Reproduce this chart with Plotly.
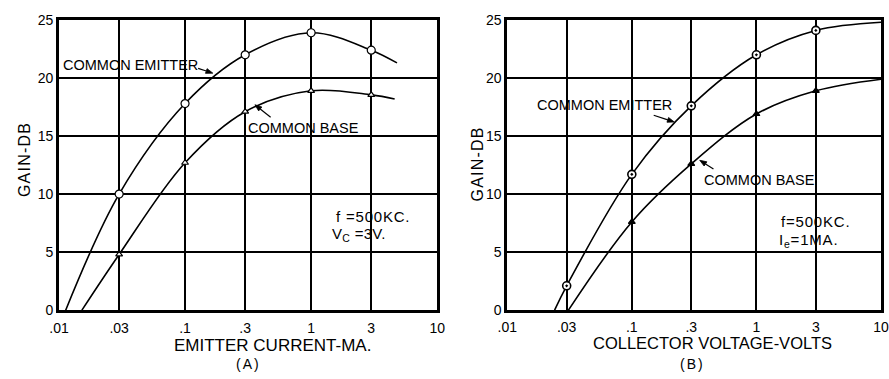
import math
import plotly.graph_objects as go

FIG_W, FIG_H = 889, 379

# Axis ticks shared by both panels
x_tickvals = [0.01, 0.03, 0.1, 0.3, 1, 3, 10]
x_ticktext = [".01", ".03", ".1", ".3", "1", "3", "10"]
y_tickvals = [0, 5, 10, 15, 20, 25]

# (A) gain vs emitter current, f = 500 kc, Vc = 3 V
a_ce_current = [0.03, 0.1, 0.3, 1, 3]
a_ce_gain = [10.0, 17.8, 22.0, 23.9, 22.4]
a_ce_ends_current = [0.0113, 4.8]
a_ce_ends_gain = [0.0, 21.3]

a_cb_current = [0.03, 0.1, 0.3, 1, 3]
a_cb_gain = [4.8, 12.7, 17.1, 18.9, 18.55]
a_cb_ends_current = [0.0152, 4.6]
a_cb_ends_gain = [0.0, 18.2]

# (B) gain vs collector voltage, f = 500 kc, Ie = 1 mA
b_ce_voltage = [0.03, 0.1, 0.3, 1, 3]
b_ce_gain = [2.1, 11.7, 17.6, 22.0, 24.1]
b_ce_ends_voltage = [0.024, 10]
b_ce_ends_gain = [0.0, 24.8]

b_cb_voltage = [0.1, 0.3, 1, 3]
b_cb_gain = [7.6, 12.6, 16.9, 18.9]
b_cb_ends_voltage = [0.031, 10]
b_cb_ends_gain = [0.0, 19.9]

FONT = "Liberation Sans"


def px(x):
    return x / FIG_W


def py(y):
    return 1 - y / FIG_H


def spaced(text, sp):
    if sp == 0:
        return text
    return f'<span style="letter-spacing:{sp}px">{text}</span>'


def curve(xs, ys, ends_x, ends_y, xa, ya):
    return go.Scatter(
        x=[ends_x[0]] + xs + [ends_x[1]],
        y=[ends_y[0]] + ys + [ends_y[1]],
        mode="lines",
        line=dict(color="black", width=1.6, shape="spline", smoothing=1.0),
        xaxis=xa, yaxis=ya, hoverinfo="skip",
    )


def points(xs, ys, xa, ya, symbol, size, fill, lw=1.2):
    return go.Scatter(
        x=xs, y=ys, mode="markers",
        marker=dict(symbol=symbol, size=size, color=fill,
                    line=dict(color="black", width=lw)),
        xaxis=xa, yaxis=ya,
    )


fig = go.Figure()

# Panel A
fig.add_trace(curve(a_ce_current, a_ce_gain, a_ce_ends_current, a_ce_ends_gain, "x", "y"))
fig.add_trace(curve(a_cb_current, a_cb_gain, a_cb_ends_current, a_cb_ends_gain, "x", "y"))
fig.add_trace(points(a_ce_current, a_ce_gain, "x", "y", "circle", 8, "white"))
fig.add_trace(points(a_cb_current, a_cb_gain, "x", "y", "triangle-up", 6, "white"))

# Panel B
fig.add_trace(curve(b_ce_voltage, b_ce_gain, b_ce_ends_voltage, b_ce_ends_gain, "x2", "y2"))
fig.add_trace(curve(b_cb_voltage, b_cb_gain, b_cb_ends_voltage, b_cb_ends_gain, "x2", "y2"))
fig.add_trace(points(b_ce_voltage, b_ce_gain, "x2", "y2", "circle-dot", 8, "white", 1.6))
fig.add_trace(points(b_cb_voltage, b_cb_gain, "x2", "y2", "triangle-up", 6, "black"))

y_dom = [py(315.5), py(12.5)]

common_x = dict(
    type="log", tickvals=x_tickvals, ticktext=x_ticktext,
    showgrid=True, gridcolor="black", gridwidth=1.8,
    showline=True, mirror=True, linecolor="black", linewidth=2.6,
    zeroline=False, ticks="", ticklabelstandoff=3,
    ticklabeloverflow="allow",
    tickfont=dict(family=FONT, size=14, color="black"),
    fixedrange=True,
)
common_y = dict(
    range=[0, 25], tickvals=y_tickvals, domain=y_dom,
    showgrid=True, gridcolor="black", gridwidth=1.8,
    showline=True, mirror=True, linecolor="black", linewidth=2.6,
    zeroline=False, ticks="",
    tickfont=dict(family=FONT, size=14, color="black"),
    fixedrange=True,
)

fig.update_layout(
    width=FIG_W, height=FIG_H,
    margin=dict(l=0, r=0, t=0, b=0),
    paper_bgcolor="white", plot_bgcolor="white",
    showlegend=False,
    xaxis=dict(common_x, range=[-2, 1], domain=[px(50), px(436)], anchor="y"),
    yaxis=dict(common_y, anchor="x"),
    xaxis2=dict(common_x, range=[-2, 1], domain=[px(507.5), 1.0], anchor="y2",
                ticklabelstandoff=2),
    yaxis2=dict(common_y, anchor="x2"),
)

annotations = []
shapes = []


def label(text, x, y, size=14.5, sp=0.0, xanchor="center", angle=0):
    annotations.append(dict(
        text=spaced(text, sp), x=px(x), y=py(y), xref="paper", yref="paper",
        xanchor=xanchor, yanchor="middle", showarrow=False, textangle=angle,
        borderpad=0, font=dict(family=FONT, size=size, color="black"),
    ))


def pointer(tip_x, tip_y, tail_x, tail_y, head_len=7.0, head_half=2.6):
    # shaft plus a small filled arrowhead at the tip (pixel geometry -> paper)
    dx, dy = tip_x - tail_x, tip_y - tail_y
    n = math.hypot(dx, dy)
    ux, uy = dx / n, dy / n
    bx, by = tip_x - ux * head_len, tip_y - uy * head_len
    p1 = (bx - uy * head_half, by + ux * head_half)
    p2 = (bx + uy * head_half, by - ux * head_half)
    shapes.append(dict(
        type="line", xref="paper", yref="paper",
        x0=px(tail_x), y0=py(tail_y), x1=px(bx), y1=py(by),
        line=dict(color="black", width=1.2),
    ))
    shapes.append(dict(
        type="path", xref="paper", yref="paper",
        path=(f"M {px(tip_x)} {py(tip_y)} L {px(p1[0])} {py(p1[1])} "
              f"L {px(p2[0])} {py(p2[1])} Z"),
        fillcolor="black", line=dict(color="black", width=0.8),
    ))


# Panel A text
label("COMMON EMITTER", 123, 59)
pointer(207, 68, 192, 63)
label("COMMON BASE", 300, 125)
pointer(250, 101, 266, 114)
label("f =500KC.", 332, 218, size=15, sp=0.8, xanchor="left")
label("V<sub>C</sub> =3V.", 328, 236, size=15, sp=0.3, xanchor="left")
label("EMITTER CURRENT-MA.", 268, 352, size=17)
label("(A)", 243, 371.5, size=14, sp=2)
label("GAIN-DB", 15, 158, size=16, sp=1.2, angle=-90)

# Panel B text
label("COMMON EMITTER", 607, 101)
pointer(678, 119, 657, 112)
label("COMMON BASE", 765, 180)
pointer(704, 159, 718, 168)
label("f=500KC.", 786, 223, size=15, sp=0.8, xanchor="left")
label("I<sub>e</sub>=1MA.", 784, 243, size=15, sp=0.8, xanchor="left")
label("COLLECTOR VOLTAGE-VOLTS", 717, 350, size=16.5)
label("(B)", 697, 372, size=14, sp=2)
label("GAIN-DB", 477, 163, size=16, sp=1.2, angle=-90)

fig.update_layout(annotations=annotations, shapes=shapes)

fig.write_html("out.html")
